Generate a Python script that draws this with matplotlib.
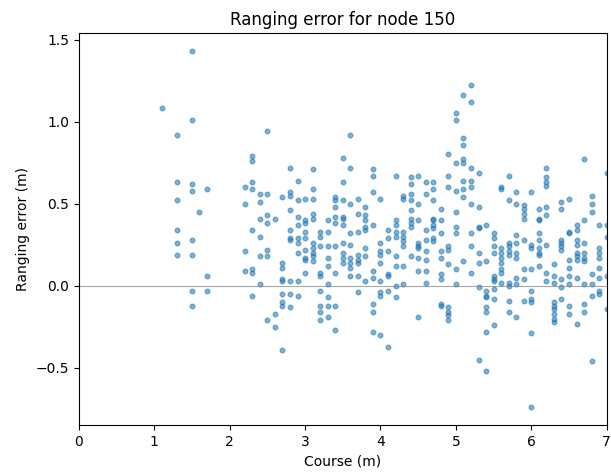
import numpy as np
import matplotlib
matplotlib.use('Agg')
import matplotlib.pyplot as plt

# Ranging error read per course position (m)
errors_by_course = {
    1.1: [1.08],
    1.3: [0.92, 0.63, 0.52, 0.34, 0.26, 0.19],
    1.5: [1.43, 1.01, 0.62, 0.58, 0.28, 0.19, -0.03, -0.12],
    1.6: [0.45],
    1.7: [0.59, 0.06, -0.03],
    2.2: [0.60, 0.50, 0.21, 0.09],
    2.3: [0.79, 0.76, 0.63, 0.59, 0.34, 0.10, 0.08, -0.06],
    2.4: [0.56, 0.51, 0.41, 0.30, 0.18, 0.01],
    2.5: [0.94, 0.56, 0.43, 0.38, 0.22, 0.18, -0.21],
    2.6: [0.41, -0.17, -0.25],
    2.7: [0.54, 0.14, 0.11, 0.04, 0.03, -0.05, -0.10, -0.12, -0.39],
    2.8: [0.72, 0.57, 0.55, 0.46, 0.34, 0.29, 0.28, 0.03, -0.05, -0.13],
    2.9: [0.64, 0.52, 0.42, 0.37, 0.29, 0.26, 0.20, 0.03, -0.06],
    3.0: [0.53, 0.40, 0.38, 0.33, 0.29, 0.22, 0.17, 0.16, 0.08],
    3.1: [0.71, 0.59, 0.53, 0.44, 0.41, 0.26, 0.23, 0.20, 0.18, 0.15],
    3.2: [0.33, 0.30, 0.24, 0.08, 0.06, -0.03, -0.12, -0.16, -0.21],
    3.3: [0.40, 0.33, 0.24, 0.17, 0.12, 0.01, -0.07, -0.12, -0.19],
    3.4: [0.54, 0.52, 0.48, 0.42, 0.38, 0.24, 0.08, -0.12, -0.27],
    3.5: [0.78, 0.63, 0.52, 0.42, 0.41, 0.37, 0.26, 0.20, 0.17, 0.14],
    3.6: [0.92, 0.72, 0.50, 0.32, 0.25, 0.17, 0.14, 0.11, 0.06],
    3.7: [0.53, 0.44, 0.33, 0.19, 0.16, 0.14, 0.06, -0.04],
    3.8: [0.48, 0.43, 0.40, 0.36, 0.34, 0.23, 0.18, 0.03],
    3.9: [0.71, 0.67, 0.57, 0.37, 0.09, 0.05, -0.11, -0.16, -0.28],
    4.0: [0.53, 0.26, 0.21, 0.19, 0.14, 0.03, -0.04, -0.06, -0.30],
    4.1: [0.34, 0.29, 0.21, 0.07, 0.06, -0.03, -0.37],
    4.2: [0.67, 0.40, 0.37, 0.33, 0.30, 0.18, 0.12, 0.00, -0.07],
    4.3: [0.55, 0.53, 0.33, 0.30, 0.27, 0.24, 0.12, 0.01],
    4.4: [0.66, 0.62, 0.56, 0.52, 0.46, 0.41, 0.38, 0.36, 0.18],
    4.5: [0.67, 0.50, 0.40, 0.26, 0.24, 0.23, 0.17, 0.09, -0.19],
    4.6: [0.63, 0.56, 0.34, 0.28, 0.21, 0.16, 0.09, 0.02],
    4.7: [0.63, 0.59, 0.52, 0.41, 0.40, 0.37, 0.35, 0.29, 0.27],
    4.8: [0.47, 0.40, 0.32, 0.21, 0.17, 0.07, 0.04, -0.11, -0.12],
    4.9: [0.80, 0.67, 0.60, 0.24, 0.22, 0.13, -0.13, -0.16, -0.18, -0.21],
    5.0: [1.05, 1.01, 0.75, 0.58, 0.45, 0.36, 0.32, 0.10, 0.01],
    5.1: [1.16, 0.90, 0.86, 0.77, 0.75, 0.64, 0.59, 0.54, 0.15],
    5.2: [1.22, 1.12, 0.72, 0.64, 0.60, 0.50, 0.32, 0.24, 0.08],
    5.3: [0.69, 0.48, 0.36, 0.35, 0.20, 0.14, -0.01, -0.45],
    5.4: [0.37, 0.15, -0.03, -0.06, -0.07, -0.13, -0.16, -0.28, -0.52],
    5.5: [0.32, 0.29, 0.24, 0.20, 0.06, 0.04, 0.03, -0.02, -0.08, -0.24],
    5.6: [0.60, 0.59, 0.23, 0.20, 0.17, 0.14, 0.10, 0.08, 0.02],
    5.7: [0.67, 0.52, 0.26, 0.24, 0.21, 0.19, 0.02, 0.00, -0.09, -0.16],
    5.8: [0.57, 0.50, 0.31, 0.26, 0.20, 0.17, 0.05, 0.01, -0.19],
    5.9: [0.49, 0.47, 0.44, 0.41, 0.28, 0.10, 0.04, -0.09],
    6.0: [0.57, 0.25, 0.23, 0.10, -0.03, -0.08, -0.10, -0.29, -0.74],
    6.1: [0.47, 0.41, 0.40, 0.32, 0.28, 0.23, 0.20, 0.19, 0.12],
    6.2: [0.72, 0.66, 0.63, 0.61, 0.48, 0.43, 0.25, 0.08, 0.03],
    6.3: [0.13, 0.06, 0.02, -0.10, -0.12, -0.14, -0.17, -0.20, -0.22],
    6.4: [0.51, 0.47, 0.28, 0.26, 0.24, 0.22, 0.04, -0.01, -0.08],
    6.5: [0.53, 0.33, 0.32, 0.16, 0.11, 0.06, 0.01, -0.12, -0.17],
    6.6: [0.37, 0.34, 0.28, 0.25, 0.20, 0.18, 0.16, 0.05, -0.23],
    6.7: [0.77, 0.40, 0.26, 0.20, 0.17, 0.15, 0.01, -0.11, -0.16],
    6.8: [0.55, 0.50, 0.45, 0.07, 0.01, -0.06, -0.46],
    6.9: [0.37, 0.23, 0.20, 0.17, 0.11, 0.05, -0.03, -0.05],
    7.0: [0.69, 0.37, 0.30, 0.06, -0.14],
}

course = []
error = []
for c, vals in errors_by_course.items():
    course += [c] * len(vals)
    error += vals
course = np.array(course)
error = np.array(error)

fig = plt.figure(figsize=(6.11, 4.74), dpi=100)
ax = fig.add_subplot(111)
fig.subplots_adjust(left=0.129, right=0.993, top=0.930, bottom=0.103)

ax.scatter(course, error, s=11, alpha=0.55, color='C0')
ax.axhline(0, color='gray', linewidth=0.8, alpha=0.7)

ax.set_xlim(0, 7)
ax.set_title('Ranging error for node 150')
ax.set_xlabel('Course (m)')
ax.set_ylabel('Ranging error (m)')

fig.savefig('out.png', dpi=100)
